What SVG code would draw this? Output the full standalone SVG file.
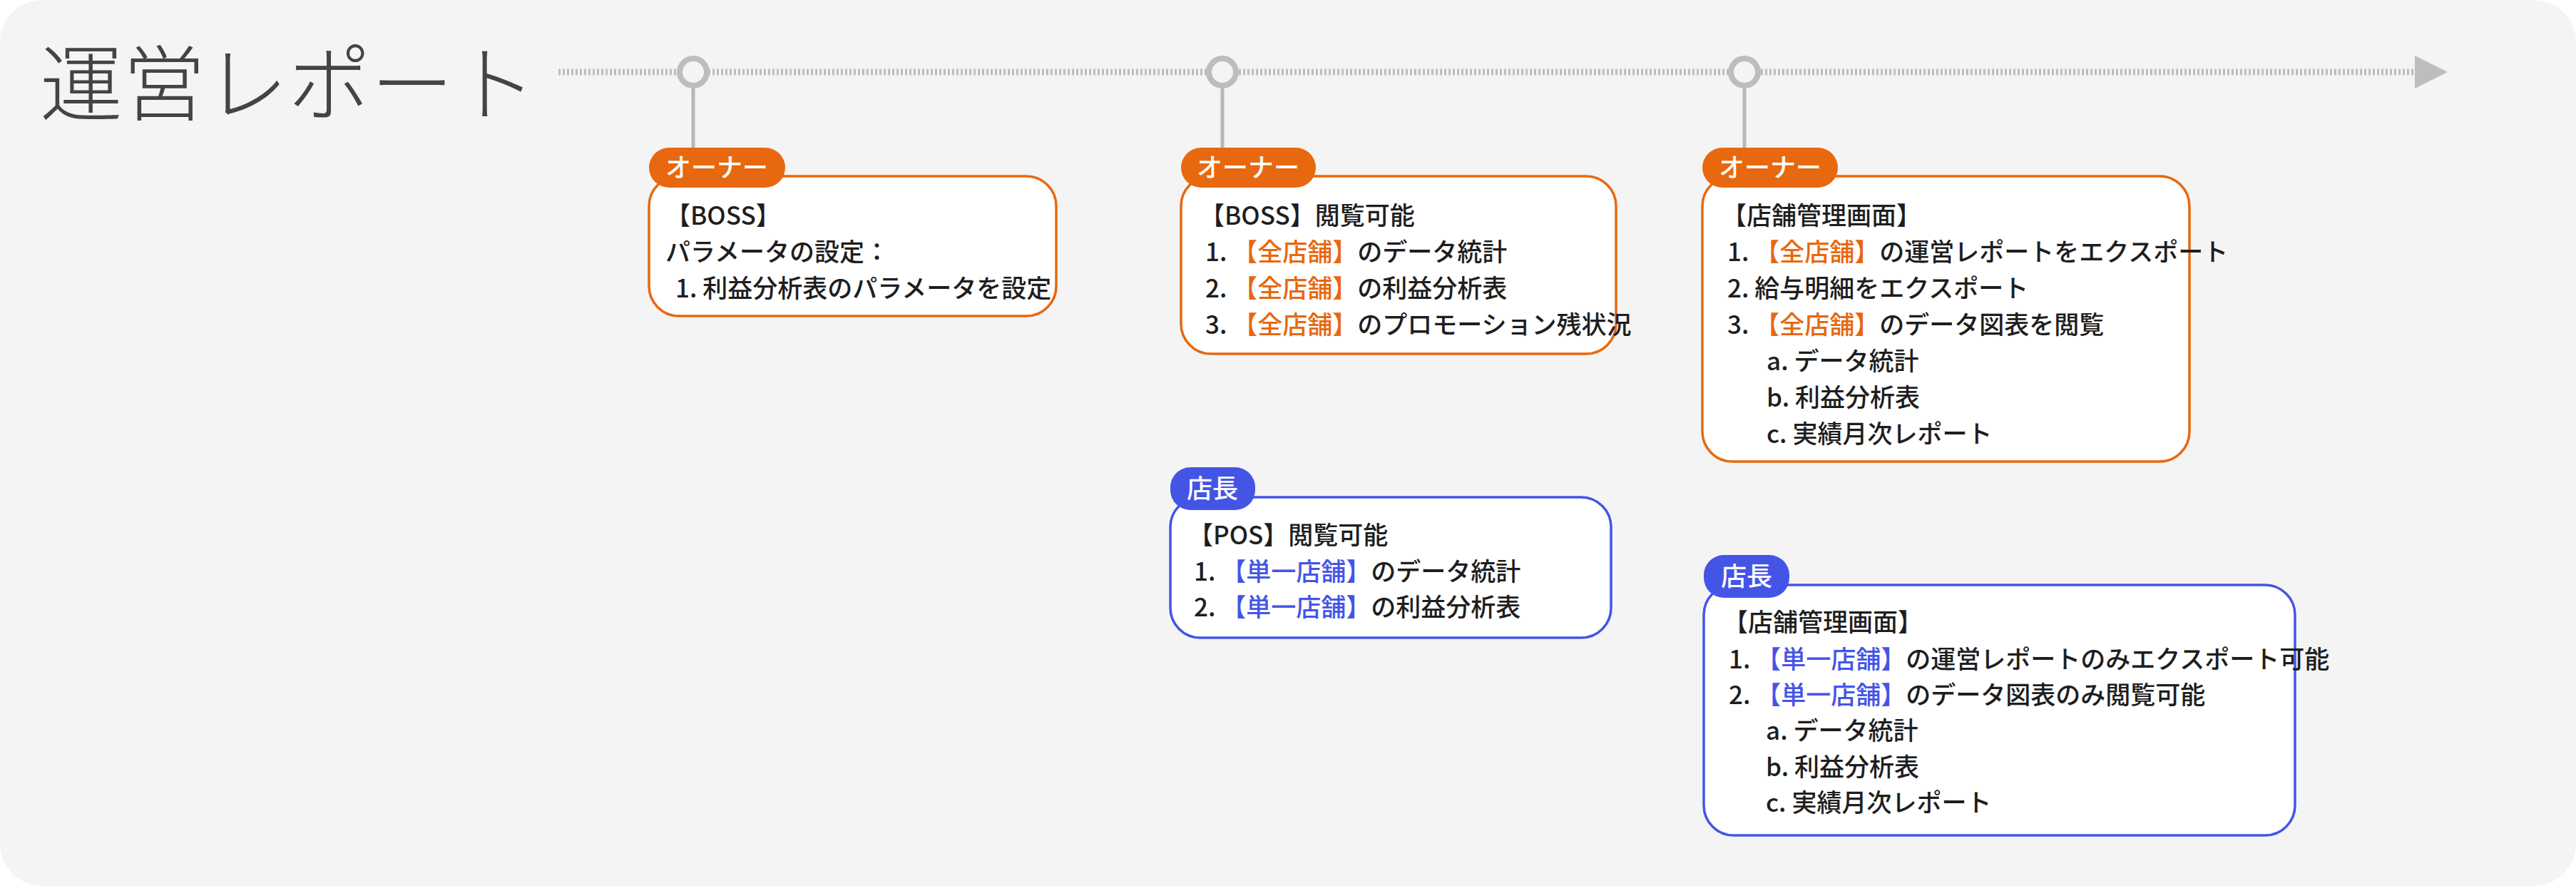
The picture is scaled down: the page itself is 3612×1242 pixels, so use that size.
<svg xmlns="http://www.w3.org/2000/svg" width="3612" height="1242" viewBox="0 0 3612 1242">
<style>
.t{font-family:"Noto Sans CJK JP","Noto Sans",sans-serif;font-size:35px;fill:#1e1e1e;font-weight:500}
.o{fill:#e8680f}.b{fill:#4455e6}
.bo{fill:#fff;stroke:#e8680f;stroke-width:3.5}
.bb{fill:#fff;stroke:#4455e6;stroke-width:3.5}
.bt{font-family:"Noto Sans CJK JP","Noto Sans",sans-serif;font-size:36px;fill:#fff;font-weight:500}
.v{stroke:#b8b8b8;stroke-width:5}
</style>
<rect x="0" y="0" width="3612" height="1242" fill="#ffffff"/>
<rect x="0" y="0" width="3612" height="1242" rx="60" fill="#f4f4f4"/>
<text x="56" y="160" style="font-family:'Noto Sans CJK JP',sans-serif;font-size:116px;fill:#444;font-weight:300">運営レポート</text>
<g id="connectors">
<line x1="783" y1="101" x2="3390" y2="101" stroke="#bdbdbd" stroke-width="9" stroke-dasharray="3 3"/>
<polygon points="3386,78 3432,101 3386,124" fill="#bdbdbd"/>
<line class="v" x1="972" y1="121" x2="972" y2="210"/>
<line class="v" x1="1714" y1="121" x2="1714" y2="210"/>
<line class="v" x1="2446" y1="121" x2="2446" y2="210"/>
<circle cx="972" cy="101" r="19" fill="#f4f4f4" stroke="#bdbdbd" stroke-width="8"/>
<circle cx="1714" cy="101" r="19" fill="#f4f4f4" stroke="#bdbdbd" stroke-width="8"/>
<circle cx="2446" cy="101" r="19" fill="#f4f4f4" stroke="#bdbdbd" stroke-width="8"/>
</g>
<g id="n1">
<rect class="bo" x="910" y="247" width="571" height="196" rx="42"/>
<rect class="o" x="910" y="207" width="191" height="56" rx="28"/>
<text class="bt" x="1005" y="248" text-anchor="middle">オーナー</text>
<text class="t" x="933" y="315">【BOSS】</text>
<text class="t" x="933" y="366">パラメータの設定：</text>
<text class="t" x="947" y="417">1. 利益分析表のパラメータを設定</text>
</g>
<g id="n2">
<rect class="bo" x="1656" y="247" width="610" height="249" rx="42"/>
<rect class="o" x="1656" y="207" width="189" height="56" rx="28"/>
<text class="bt" x="1750" y="248" text-anchor="middle">オーナー</text>
<text class="t" x="1682" y="315">【BOSS】閲覧可能</text>
<text class="t" x="1690" y="366">1. <tspan class="o">【全店舗】</tspan>のデータ統計</text>
<text class="t" x="1690" y="417">2. <tspan class="o">【全店舗】</tspan>の利益分析表</text>
<text class="t" x="1690" y="468">3. <tspan class="o">【全店舗】</tspan>のプロモーション残状況</text>
</g>
<g id="n3">
<rect class="bo" x="2387" y="247" width="683" height="400" rx="42"/>
<rect class="o" x="2387" y="207" width="190" height="56" rx="28"/>
<text class="bt" x="2482" y="248" text-anchor="middle">オーナー</text>
<text class="t" x="2414" y="315">【店舗管理画面】</text>
<text class="t" x="2422" y="366">1. <tspan class="o">【全店舗】</tspan>の運営レポートをエクスポート</text>
<text class="t" x="2422" y="417">2. 給与明細をエクスポート</text>
<text class="t" x="2422" y="468">3. <tspan class="o">【全店舗】</tspan>のデータ図表を閲覧</text>
<text class="t" x="2477" y="519">a. データ統計</text>
<text class="t" x="2477" y="570">b. 利益分析表</text>
<text class="t" x="2477" y="621">c. 実績月次レポート</text>
</g>
<g id="n4">
<rect class="bb" x="1641" y="697" width="618" height="197" rx="42"/>
<rect class="b" x="1641" y="655" width="119" height="60" rx="28"/>
<text class="bt" x="1700" y="698" text-anchor="middle">店長</text>
<text class="t" x="1666" y="763">【POS】閲覧可能</text>
<text class="t" x="1674" y="814">1. <tspan class="b">【単一店舗】</tspan>のデータ統計</text>
<text class="t" x="1674" y="864">2. <tspan class="b">【単一店舗】</tspan>の利益分析表</text>
</g>
<g id="n5">
<rect class="bb" x="2389" y="820" width="829" height="351" rx="42"/>
<rect class="b" x="2389" y="778" width="120" height="60" rx="28"/>
<text class="bt" x="2449" y="821" text-anchor="middle">店長</text>
<text class="t" x="2416" y="885">【店舗管理画面】</text>
<text class="t" x="2424" y="937">1. <tspan class="b">【単一店舗】</tspan>の運営レポートのみエクスポート可能</text>
<text class="t" x="2424" y="987">2. <tspan class="b">【単一店舗】</tspan>のデータ図表のみ閲覧可能</text>
<text class="t" x="2476" y="1037">a. データ統計</text>
<text class="t" x="2476" y="1088">b. 利益分析表</text>
<text class="t" x="2476" y="1138">c. 実績月次レポート</text>
</g>
</svg>
